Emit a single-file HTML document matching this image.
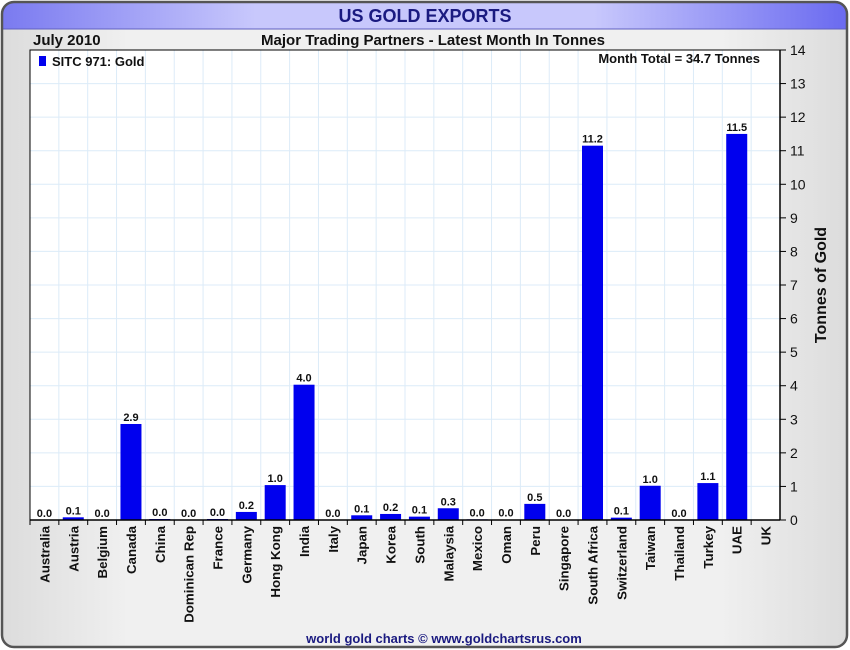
<!DOCTYPE html>
<html><head><meta charset="utf-8"><style>
html,body{margin:0;padding:0;background:#fff;}
svg{display:block;font-family:"Liberation Sans",sans-serif;}
</style></head><body>
<svg id="chart" width="850" height="650">
<defs>
<linearGradient id="bg" x1="0" x2="1" y1="0" y2="0"><stop offset="0" stop-color="#dcdcdc"/><stop offset="0.15" stop-color="#f0f0f0"/><stop offset="0.85" stop-color="#f0f0f0"/><stop offset="1" stop-color="#dcdcdc"/></linearGradient>
<linearGradient id="tb" x1="0" x2="1" y1="0" y2="0"><stop offset="0" stop-color="#7a7af0"/><stop offset="0.3" stop-color="#c8c8fc"/><stop offset="0.7" stop-color="#c8c8fc"/><stop offset="1" stop-color="#6a6af0"/></linearGradient>
<clipPath id="frameclip"><rect x="2" y="2" width="845" height="645" rx="12"/></clipPath>
</defs>
<g clip-path="url(#frameclip)">
<rect x="2" y="2" width="845" height="645" fill="url(#bg)"/>
<rect x="2" y="2" width="845" height="27" fill="url(#tb)"/>
<line x1="2" y1="29" x2="847" y2="29" stroke="#6060c0" stroke-width="1"/>
</g>
<rect x="2" y="2" width="845" height="645" rx="12" fill="none" stroke="#555" stroke-width="2.5"/>
<text x="425" y="22" text-anchor="middle" font-size="18" font-weight="bold" fill="#1a1a80">US GOLD EXPORTS</text>
<text x="33" y="45" font-size="15" font-weight="bold" fill="#111">July 2010</text>
<text x="433" y="45" text-anchor="middle" font-size="15" font-weight="bold" fill="#111">Major Trading Partners - Latest Month In Tonnes</text>
<rect x="30" y="50" width="750" height="470" fill="#fff"/>
<g id="grid"></g>
<g id="bars"></g>
<g id="axes"></g>
<rect x="39" y="56" width="7" height="10" fill="#0000ee"/>
<text x="52" y="66" font-size="13" font-weight="bold" fill="#111">SITC 971: Gold</text>
<text x="760" y="63" text-anchor="end" font-size="13" font-weight="bold" fill="#111">Month Total = 34.7 Tonnes</text>
<text transform="translate(826,285) rotate(-90)" text-anchor="middle" font-size="16" font-weight="bold" fill="#111">Tonnes of Gold</text>
<text x="444" y="643" text-anchor="middle" font-size="13" font-weight="bold" fill="#1a1a80">world gold charts © www.goldchartsrus.com</text>
</svg>
<script>
const categories = ["Australia","Austria","Belgium","Canada","China","Dominican Rep","France","Germany","Hong Kong","India","Italy","Japan","Korea","South","Malaysia","Mexico","Oman","Peru","Singapore","South Africa","Switzerland","Taiwan","Thailand","Turkey","UAE","UK"];
const values = [0.0,0.08,0.0,2.86,0.03,0.0,0.03,0.24,1.04,4.03,0.0,0.14,0.18,0.1,0.35,0.02,0.01,0.48,0.0,11.15,0.07,1.02,0.0,1.1,11.5,null];
const yTicks = [0,1,2,3,4,5,6,7,8,9,10,11,12,13,14];
const NS="http://www.w3.org/2000/svg";
const L=30,R=780,T=50,B=520,yMax=14;
const bw=(R-L)/categories.length;
function xs(i){return L+bw*i;}
function ys(v){return B-(v/yMax)*(B-T);}
function mk(tag,attrs,parent){const e=document.createElementNS(NS,tag);for(const k in attrs)e.setAttribute(k,attrs[k]);parent.appendChild(e);return e;}
const grid=document.getElementById('grid'),bars=document.getElementById('bars'),axes=document.getElementById('axes');
yTicks.forEach(t=>{
  const y=ys(t);
  const g=mk('line',{x1:L,x2:R,y1:y,y2:y,stroke:'#dcebf8','stroke-width':1},grid);
  
  
  const tk=mk('line',{x1:R,x2:R+6,y1:y,y2:y,stroke:'#000','stroke-width':1},axes);
  
  
  const lb=mk('text',{x:R+10,y:y+5,'font-size':14,fill:'#111'},axes);
  lb.textContent=t;
  
  
});
categories.forEach((c,i)=>{
  const x0=xs(i),cx=x0+bw/2;
  if(i>0){const g=mk('line',{x1:x0,x2:x0,y1:T,y2:B,stroke:'#dcebf8','stroke-width':1},grid);
    
    }
  const tk=mk('line',{x1:x0,x2:x0,y1:B,y2:B+5,stroke:'#000','stroke-width':1},axes);
  
  
  const lb=mk('text',{transform:`translate(${cx+5},${B+6}) rotate(-90)`,'text-anchor':'end','font-size':13.3,'font-weight':'bold',fill:'#111'},axes);
  lb.textContent=c;
  
  
  const v=values[i];
  if(v===null||v===undefined)return;
  const y=ys(v);
  const r=mk('rect',{x:cx-10.5,y:y,width:21,height:Math.max(B-y,0),fill:'#0000ee'},bars);
  
  
  const vl=mk('text',{x:cx,y:y-3,'text-anchor':'middle','font-size':11,'font-weight':'bold',fill:'#111'},bars);
  vl.textContent=v.toFixed(1);
  
  
});
const xa=mk('line',{x1:L,x2:R,y1:B,y2:B,stroke:'#000','stroke-width':1.5},axes);


const ya=mk('line',{x1:R,x2:R,y1:T,y2:B,stroke:'#000','stroke-width':1.5},axes);


const pb=mk('rect',{x:L,y:T,width:R-L,height:B-T,fill:'none',stroke:'#000','stroke-width':1},axes);


</script>
</body></html>
